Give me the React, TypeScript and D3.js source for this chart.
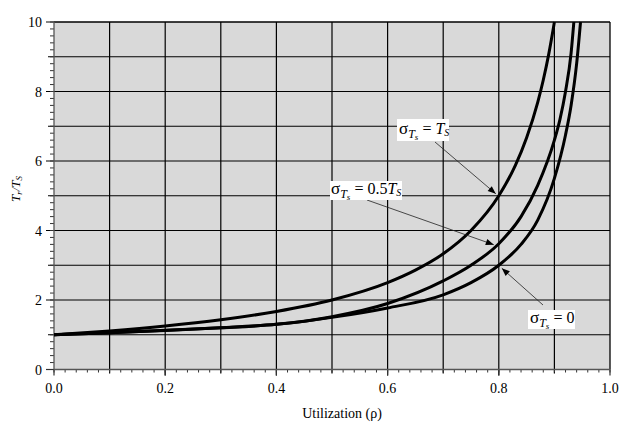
import React from "react";
import * as d3 from "d3";

// ---- data ----
const rhoTop = [0, 0.1, 0.2, 0.3, 0.4, 0.5, 0.6, 0.65, 0.7, 0.75, 0.8, 0.83, 0.85, 0.87, 0.88, 0.89, 0.9];
const valTop = [1, 1.11, 1.25, 1.43, 1.67, 2.0, 2.5, 2.86, 3.33, 4.0, 5.0, 5.88, 6.67, 7.69, 8.33, 9.09, 10];

const rhoMid = [0, 0.1, 0.2, 0.3, 0.4, 0.5, 0.6, 0.7, 0.75, 0.8, 0.84, 0.87, 0.9, 0.91, 0.92, 0.93, 0.935];
const valMid = [1, 1.06, 1.13, 1.2, 1.3, 1.52, 1.9, 2.55, 3.0, 3.62, 4.4, 5.3, 6.6, 7.2, 8.0, 9.1, 10];

const rhoLow = [0, 0.1, 0.2, 0.3, 0.4, 0.5, 0.6, 0.7, 0.75, 0.8, 0.84, 0.87, 0.9, 0.92, 0.93, 0.94, 0.947];
const valLow = [1, 1.06, 1.12, 1.2, 1.3, 1.5, 1.77, 2.15, 2.5, 3.0, 3.6, 4.3, 5.5, 6.75, 7.6, 8.8, 10];

const xTickLabels = ["0.0", "0.2", "0.4", "0.6", "0.8", "1.0"];
const yTickLabels = ["0", "2", "4", "6", "8", "10"];

const W = 635;
const H = 429;
const FONT = "'Liberation Serif', 'Times New Roman', serif";

export default function App() {
  const x = d3.scaleLinear().domain([0, 1]).range([54, 610]);
  const y = d3.scaleLinear().domain([0, 10]).range([369.5, 22]);

  const line = d3
    .line<[number, number]>()
    .x((d) => x(d[0]))
    .y((d) => y(d[1]))
    .curve(d3.curveMonotoneX);

  const series = [
    rhoTop.map((r, i) => [r, valTop[i]] as [number, number]),
    rhoMid.map((r, i) => [r, valMid[i]] as [number, number]),
    rhoLow.map((r, i) => [r, valLow[i]] as [number, number]),
  ];

  const vGrid = d3.range(1, 10).map((i) => i / 10);
  const hGrid = d3.range(1, 10);
  const xMinor = d3.range(0, 51).map((i) => i / 50);
  const yMinor = d3.range(0, 51).map((i) => i / 5);

  const sub = (
    <>
      <tspan fontSize={17}>σ</tspan>
      <tspan dy={4} fontSize={12} fontStyle="italic">T</tspan>
      <tspan dy={2} fontSize={9} fontStyle="italic">s</tspan>
    </>
  );

  const arrow = (x1: number, y1: number, x2: number, y2: number) => (
    <line x1={x1} y1={y1} x2={x2} y2={y2} stroke="#222" strokeWidth={0.8} markerEnd="url(#ah)" />
  );

  return (
    <svg width={W} height={H} style={{ position: "absolute", left: 0, top: 0, background: "#fff" }}>
      <defs>
        <marker id="ah" viewBox="0 0 10 10" refX={10} refY={5} markerWidth={10} markerHeight={8} markerUnits="userSpaceOnUse" orient="auto">
          <path d="M0,1 L10,5 L0,9 Z" fill="#000" />
        </marker>
        <clipPath id="plot">
          <rect x={x(0)} y={y(10) - 1} width={x(1) - x(0)} height={y(0) - y(10) + 1} />
        </clipPath>
      </defs>
      <rect x={x(0)} y={y(10)} width={x(1) - x(0)} height={y(0) - y(10)} fill="#d9d9d9" />

      {/* grid */}
      {vGrid.map((v) => (
        <line key={"v" + v} x1={x(v)} x2={x(v)} y1={y(10)} y2={y(0) + (Math.round(v * 10) % 2 === 0 ? 6 : 4)} stroke="#000" strokeWidth={1.2} />
      ))}
      {hGrid.map((v) => (
        <line key={"h" + v} x1={x(0) - (v % 2 === 0 ? 8 : 6)} x2={x(1)} y1={y(v)} y2={y(v)} stroke="#000" strokeWidth={1.2} />
      ))}

      {/* minor ticks */}
      {xMinor.map((v) => (
        <line key={"xm" + v} x1={x(v)} x2={x(v)} y1={y(0)} y2={y(0) + 3} stroke="#333" strokeWidth={1} />
      ))}
      {yMinor.map((v) => (
        <line key={"ym" + v} x1={x(0) - 4} x2={x(0)} y1={y(v)} y2={y(v)} stroke="#333" strokeWidth={1} />
      ))}
      {[0, 0.2, 0.4, 0.6, 0.8, 1].map((v) => (
        <line key={"xM" + v} x1={x(v)} x2={x(v)} y1={y(0)} y2={y(0) + 6} stroke="#333" strokeWidth={1.2} />
      ))}
      {[0, 10].map((v) => (
        <line key={"yM" + v} x1={x(0) - 8} x2={x(0)} y1={y(v)} y2={y(v)} stroke="#333" strokeWidth={1.2} />
      ))}

      {/* frame */}
      <line x1={x(0)} x2={x(1)} y1={y(10)} y2={y(10)} stroke="#000" strokeWidth={1.3} />
      <line x1={x(1)} x2={x(1)} y1={y(10)} y2={y(0)} stroke="#000" strokeWidth={1.3} />
      <line x1={x(0)} x2={x(0)} y1={y(10)} y2={y(0)} stroke="#555" strokeWidth={1.3} />
      <line x1={x(0)} x2={x(1)} y1={y(0)} y2={y(0)} stroke="#555" strokeWidth={1.3} />

      {/* curves */}
      <g clipPath="url(#plot)">
        {series.map((s, i) => (
          <path key={i} d={line(s) || ""} fill="none" stroke="#000" strokeWidth={3} />
        ))}
      </g>

      {/* tick labels */}
      {yTickLabels.map((t) => (
        <text key={"yl" + t} x={42} y={y(+t) + 5} textAnchor="end" fontFamily={FONT} fontSize={14}>
          {t}
        </text>
      ))}
      {xTickLabels.map((t) => (
        <text key={"xl" + t} x={x(+t)} y={393} textAnchor="middle" fontFamily={FONT} fontSize={14}>
          {t}
        </text>
      ))}

      {/* axis titles */}
      <text x={342} y={418} textAnchor="middle" fontFamily={FONT} fontSize={14}>
        Utilization (ρ)
      </text>
      <text transform="translate(20,189) rotate(-90)" textAnchor="middle" fontFamily={FONT} fontSize={13} fontStyle="italic">
        T<tspan dy={2} fontSize={9}>r</tspan>
        <tspan dy={-2}>/T</tspan>
        <tspan dy={2} fontSize={9}>S</tspan>
      </text>

      {/* annotations */}
      {arrow(435, 142, x(0.8) - 3, y(5) - 2)}
      {arrow(367, 200, x(0.8) - 5, y(3.62) + 1)}
      {arrow(543, 305, x(0.8) + 3, y(3) + 3)}

      <rect x={397} y={119} width={52} height={22} fill="#fff" />
      <text x={399} y={134} fontFamily={FONT} fontSize={16}>
        {sub}
        <tspan dy={-6}> = </tspan>
        <tspan fontStyle="italic">T</tspan>
        <tspan dy={2} fontSize={10} fontStyle="italic">S</tspan>
      </text>

      <rect x={330} y={181} width={72} height={19} fill="#fff" />
      <text x={331} y={194} fontFamily={FONT} fontSize={16}>
        {sub}
        <tspan dy={-6}> = 0.5</tspan>
        <tspan fontStyle="italic">T</tspan>
        <tspan dy={2} fontSize={10} fontStyle="italic">S</tspan>
      </text>

      <rect x={528} y={310} width={47} height={19} fill="#fff" />
      <text x={530} y={323} fontFamily={FONT} fontSize={16}>
        {sub}
        <tspan dy={-6}> = 0</tspan>
      </text>
    </svg>
  );
}
